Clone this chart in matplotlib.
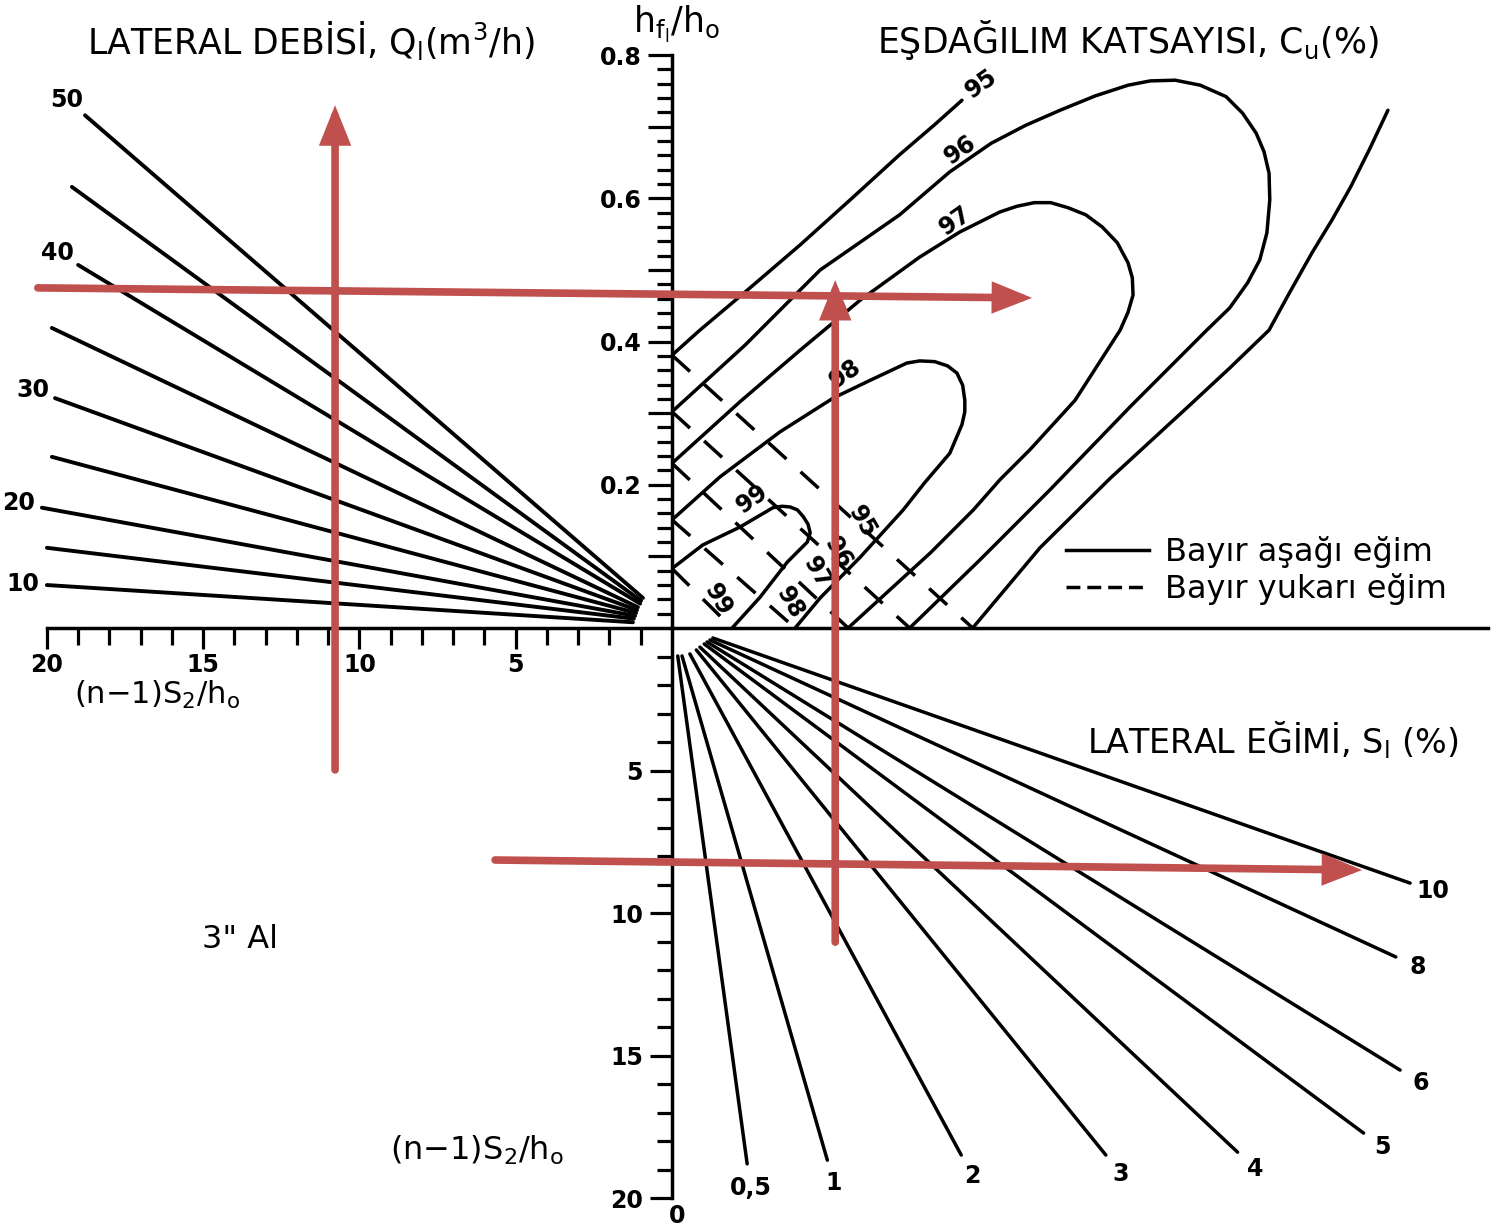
import numpy as np
import matplotlib
matplotlib.use('Agg')
import matplotlib.pyplot as plt
from matplotlib.lines import Line2D

# upper left: lateral discharge lines, x = (n-1)S2/ho, y = hf/ho
q_values = [50, 45, 40, 35, 30, 25, 20, 15, 10]
q_x_start = [0.93, 0.99, 1.02, 1.09, 1.12, 1.15, 1.18, 1.22, 1.25]
q_y_start = [0.042, 0.038, 0.034, 0.029, 0.025, 0.021, 0.017, 0.013, 0.008]
q_x_end = [18.78, 19.2, 19.0, 19.84, 19.74, 19.84, 20.16, 20.0, 20.0]
q_y_end = [0.716, 0.616, 0.507, 0.419, 0.321, 0.239, 0.168, 0.112, 0.060]
q_labeled = [50, 40, 30, 20, 10]

# lower right: lateral slope lines, y = (n-1)S2/ho
s_labels = ['0,5', '1', '2', '3', '4', '5', '6', '8', '10']
s_x_start = [0.008, 0.014, 0.025, 0.034, 0.039, 0.045, 0.049, 0.053, 0.057]
s_y_start = [0.98, 0.98, 0.91, 0.77, 0.67, 0.56, 0.49, 0.42, 0.35]
s_x_end = [0.105, 0.217, 0.404, 0.606, 0.790, 0.966, 1.017, 1.011, 1.031]
s_y_end = [18.8, 18.67, 18.49, 18.49, 18.39, 17.72, 15.51, 11.54, 8.95]

# upper right: uniformity coefficient Cu, downhill slope (solid)
cu95_left_x = [0, 0.039, 0.109, 0.179, 0.249, 0.318, 0.367, 0.405]
cu95_left_y = [0.381, 0.416, 0.475, 0.535, 0.598, 0.661, 0.703, 0.737]
cu95_right_x = [0.420, 0.514, 0.612, 0.723, 0.779, 0.834, 0.863, 0.894, 0.922,
                0.948, 0.975, 1.0]
cu95_right_y = [0, 0.112, 0.209, 0.311, 0.363, 0.416, 0.469, 0.524, 0.570,
                0.616, 0.670, 0.723]
cu96_x = [0, 0.102, 0.207, 0.318, 0.388, 0.446, 0.494, 0.542, 0.591, 0.637,
          0.668, 0.703, 0.738, 0.774, 0.797, 0.816, 0.827, 0.834, 0.835, 0.831,
          0.821, 0.804, 0.779, 0.747, 0.640, 0.528, 0.430, 0.332]
cu96_y = [0.302, 0.395, 0.5, 0.577, 0.637, 0.677, 0.702, 0.723, 0.743, 0.758,
          0.764, 0.765, 0.758, 0.742, 0.719, 0.691, 0.665, 0.635, 0.598, 0.552,
          0.514, 0.482, 0.447, 0.416, 0.309, 0.193, 0.095, 0]
cu97_x = [0, 0.095, 0.179, 0.263, 0.346, 0.402, 0.458, 0.482, 0.506, 0.529,
          0.553, 0.578, 0.601, 0.622, 0.637, 0.643, 0.644, 0.637, 0.626, 0.563,
          0.500, 0.458, 0.421, 0.361, 0.304, 0.246]
cu97_y = [0.230, 0.316, 0.388, 0.458, 0.518, 0.553, 0.581, 0.589, 0.594, 0.594,
          0.587, 0.577, 0.560, 0.538, 0.510, 0.489, 0.465, 0.441, 0.416, 0.318,
          0.249, 0.207, 0.165, 0.105, 0.053, 0]
cu98_x = [0, 0.067, 0.151, 0.225, 0.277, 0.328, 0.346, 0.367, 0.385, 0.398,
          0.406, 0.409, 0.409, 0.405, 0.388, 0.353, 0.323, 0.263, 0.207, 0.172]
cu98_y = [0.151, 0.211, 0.274, 0.321, 0.346, 0.370, 0.373, 0.372, 0.366, 0.356,
          0.339, 0.318, 0.302, 0.284, 0.244, 0.203, 0.165, 0.099, 0.042, 0]
cu99_x = [0, 0.043, 0.095, 0.141, 0.154, 0.165, 0.175, 0.183, 0.190, 0.193,
          0.189, 0.161, 0.123, 0.084]
cu99_y = [0.083, 0.116, 0.141, 0.168, 0.170, 0.169, 0.165, 0.156, 0.145, 0.133,
          0.120, 0.092, 0.043, 0]

cu_levels = [95, 96, 97, 98, 99]
cu_label_x = [0.432, 0.403, 0.396, 0.242, 0.112]
cu_label_y = [0.760, 0.668, 0.568, 0.355, 0.180]

# uphill slope (dashed): straight lines between the axis intercepts
up_y0 = [0.381, 0.302, 0.230, 0.151, 0.083]
up_x0 = [0.420, 0.332, 0.246, 0.172, 0.084]
up_label_x = [0.265, 0.232, 0.203, 0.165, 0.064]
up_label_y = [0.148, 0.105, 0.077, 0.035, 0.039]

W, H = 1491, 1228
red = '#c0504d'
lw = 2.5

fig = plt.figure(figsize=(W / 100, H / 100), dpi=100)
ox, oy = 672 / W, 1 - 628 / H
ax_ul = fig.add_axes([0, oy, ox, 1 - oy])
ax_ur = fig.add_axes([ox, oy, 1 - ox, 1 - oy])
ax_ll = fig.add_axes([0, 0, ox, oy])
ax_lr = fig.add_axes([ox, 0, 1 - ox, oy])

ax_ul.set_xlim(21.5, 0)
ax_ul.set_ylim(0, 0.877)
ax_ur.set_xlim(0, 1.144)
ax_ur.set_ylim(0, 0.877)
ax_ll.set_xlim(21.5, 0)
ax_ll.set_ylim(21.05, 0)
ax_lr.set_xlim(0, 1.144)
ax_lr.set_ylim(21.05, 0)

for ax in (ax_ul, ax_ur, ax_ll, ax_lr):
    ax.patch.set_visible(False)
    for sp in ax.spines.values():
        sp.set_visible(False)
        sp.set_linewidth(2.5)
ax_ll.set_xticks([])
ax_ll.set_yticks([])

# left horizontal axis
ax_ul.spines['bottom'].set_visible(True)
ax_ul.spines['bottom'].set_bounds(0, 20)
ax_ul.set_yticks([])
ax_ul.set_xticks([20, 15, 10, 5])
ax_ul.set_xticks([i for i in range(1, 20) if i % 5], minor=True)
ax_ul.tick_params(axis='x', which='major', direction='out', length=15, width=2.3,
                  pad=3, labelsize=17)
ax_ul.tick_params(axis='x', which='minor', direction='out', length=12, width=2.3)

# hf/ho axis and right horizontal axis
ax_ur.spines['left'].set_visible(True)
ax_ur.spines['left'].set_bounds(0, 0.8)
ax_ur.spines['bottom'].set_visible(True)
ax_ur.spines['bottom'].set_bounds(0, 1.14)
ax_ur.set_xticks([])
ax_ur.set_yticks(np.arange(1, 9) / 10, ['', '0.2', '', '0.4', '', '0.6', '', '0.8'])
ax_ur.set_yticks([k / 50 for k in range(1, 41) if k % 5], minor=True)
ax_ur.tick_params(axis='y', which='major', direction='out', length=17, width=2.3,
                  pad=5, labelsize=17)
ax_ur.tick_params(axis='y', which='minor', direction='out', length=11, width=2.3)

# lower vertical axis
ax_lr.spines['left'].set_visible(True)
ax_lr.spines['left'].set_bounds(0, 20)
ax_lr.set_xticks([])
ax_lr.set_yticks([5, 10, 15, 20])
ax_lr.set_yticks([i for i in range(1, 20) if i % 5], minor=True)
ax_lr.tick_params(axis='y', which='major', direction='out', length=16, width=2.3,
                  pad=5, labelsize=17)
ax_lr.tick_params(axis='y', which='minor', direction='out', length=11, width=2.3)

for lbl in ax_ul.get_xticklabels() + ax_ur.get_yticklabels() + ax_lr.get_yticklabels():
    lbl.set_fontweight('bold')


def end_label(ax, x0, y0, x1, y1, text, dist=24):
    p0 = ax.transData.transform((x0, y0))
    p1 = ax.transData.transform((x1, y1))
    d = (p1 - p0) / np.hypot(*(p1 - p0))
    ax.annotate(text, xy=(x1, y1), xytext=(d[0] * dist, d[1] * dist),
                textcoords='offset pixels', ha='center', va='center',
                fontsize=17, fontweight='bold')


# Q lines
for q, xs, ys, xe, ye in zip(q_values, q_x_start, q_y_start, q_x_end, q_y_end):
    ax_ul.plot([xs, xe], [ys, ye], color='k', lw=2.8, solid_capstyle='round')
    if q in q_labeled:
        end_label(ax_ul, xs, ys, xe, ye, str(q))

# S_l lines
for lab, xs, ys, xe, ye in zip(s_labels, s_x_start, s_y_start, s_x_end, s_y_end):
    ax_lr.plot([xs, xe], [ys, ye], color='k', lw=lw, solid_capstyle='round')
    end_label(ax_lr, xs, ys, xe, ye, lab)
ax_lr.text(0.007, 20.2, '0', ha='center', va='top', fontsize=17, fontweight='bold')

# Cu contours
curve = dict(color='k', lw=lw, solid_joinstyle='round', solid_capstyle='round')
ax_ur.plot(cu95_left_x, cu95_left_y, **curve)
ax_ur.plot(cu95_right_x, cu95_right_y, **curve)
for cx, cy in [(cu96_x, cu96_y), (cu97_x, cu97_y), (cu98_x, cu98_y), (cu99_x, cu99_y)]:
    ax_ur.plot(cx, cy, **curve)
for lev, x, y in zip(cu_levels, cu_label_x, cu_label_y):
    ax_ur.text(x, y, str(lev), rotation=35, ha='center', va='center',
               fontsize=17, fontweight='bold')

for y0, x0 in zip(up_y0, up_x0):
    ax_ur.plot([0, x0], [y0, 0], color='k', lw=lw, linestyle=(0, (7, 5.5)))
for lev, x, y in zip(cu_levels, up_label_x, up_label_y):
    ax_ur.text(x, y, str(lev), rotation=-60, ha='center', va='center',
               fontsize=17, fontweight='bold')

handles = [Line2D([], [], color='k', lw=lw),
           Line2D([], [], color='k', lw=lw, linestyle=(0, (4, 2)))]
ax_ur.legend(handles, ['Bayır aşağı eğim', 'Bayır yukarı eğim'], frameon=False,
             loc='upper left', bbox_to_anchor=(1066 / W, 1 - 536 / H),
             bbox_transform=fig.transFigure, fontsize=23, handlelength=2.6,
             handletextpad=0.5, labelspacing=0.15, borderpad=0, borderaxespad=0)

# titles and axis names
fig.text(311 / W, 1 - 40 / H, r'LATERAL DEBİSİ, Q$_\mathrm{l}$(m$^3$/h)',
         ha='center', va='center', fontsize=25)
fig.text(1128 / W, 1 - 40 / H, r'EŞDAĞILIM KATSAYISI, C$_\mathrm{u}$(%)',
         ha='center', va='center', fontsize=25)
fig.text(677 / W, 1 - 24 / H, r'h$_{\mathrm{f_l}}$/h$_\mathrm{o}$',
         ha='center', va='center', fontsize=25)
fig.text(1273 / W, 1 - 740 / H, r'LATERAL EĞİMİ, S$_\mathrm{l}$ (%)',
         ha='center', va='center', fontsize=24)
fig.text(157 / W, 1 - 695 / H, r'(n$-$1)S$_2$/h$_\mathrm{o}$',
         ha='center', va='center', fontsize=22)
fig.text(477 / W, 1 - 1150 / H, r'(n$-$1)S$_2$/h$_\mathrm{o}$',
         ha='center', va='center', fontsize=23)
fig.text(240 / W, 1 - 940 / H, '3" Al', ha='center', va='center', fontsize=23)

# reading path
ax_top = fig.add_axes([0, 0, 1, 1])
ax_top.axis('off')
ax_top.patch.set_visible(False)


def red_arrow(tail_ax, tail, head_ax, head):
    ax_top.annotate('', xy=head, xycoords=head_ax.transData,
                    xytext=tail, textcoords=tail_ax.transData,
                    arrowprops=dict(arrowstyle='-|>,head_length=0.95,head_width=0.38',
                                    color=red, lw=5.5, shrinkA=0, shrinkB=0,
                                    mutation_scale=20, joinstyle='miter'))


red_arrow(ax_ll, (10.78, 4.98), ax_ul, (10.78, 0.730))
red_arrow(ax_ul, (20.29, 0.475), ax_ur, (0.503, 0.461))
red_arrow(ax_lr, (0.228, 11.02), ax_ur, (0.228, 0.486))
red_arrow(ax_ll, (5.66, 8.14), ax_lr, (0.964, 8.49))

fig.savefig('out.png', dpi=100)
